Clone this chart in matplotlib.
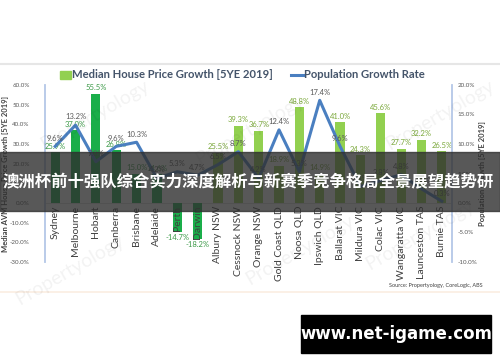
import matplotlib.pyplot as plt
from matplotlib.patches import Rectangle, Patch
from matplotlib.lines import Line2D
import numpy as np

plt.rcParams['font.family'] = ['Lato', 'DejaVu Sans']

cities = ['Sydney', 'Melbourne', 'Hobart', 'Canberra', 'Brisbane', 'Adelaide',
          'Perth', 'Darwin', 'Albury NSW', 'Cessnock NSW', 'Orange NSW',
          'Gold Coast QLD', 'Noosa QLD', 'Ipswich QLD', 'Ballarat VIC',
          'Mildura VIC', 'Colac VIC', 'Wangaratta VIC', 'Launceston TAS', 'Burnie TAS']
house_growth = [25.9, 37.0, 55.5, 26.8, 15.0, 14.6, -14.7, -18.2, 25.5, 39.3,
                36.7, 18.9, 48.8, 14.9, 41.0, 24.3, 45.6, 27.7, 32.2, 26.5]
pop_growth = [9.6, 13.2, 7.0, 9.6, 10.3, 4.2, 5.3, 4.7, 6.5, 8.7,
              4.2, 12.4, 5.3, 17.4, 9.6, 2.8, 3.8, 4.8, 2.4, 0.3]
n_capital = 8

left_ticks = [-30, -20, -10, 0, 10, 20, 30, 40, 50, 60]
right_ticks = [-10, -5, 0, 5, 10, 15, 20]

W, H = 500, 362
fig = plt.figure(figsize=(5, 3.62), dpi=100, facecolor='white')
ax = fig.add_axes([45 / W, 1 - 262 / H, (452 - 45) / W, (262 - 85) / H])
ax2 = ax.twinx()

x = np.arange(len(cities))
bar_cols = ['#1aae4a' if i < n_capital else '#92d050' for i in x]
lab_cols = ['#3c9a48' if i < n_capital else '#7aa83a' for i in x]
ax.bar(x, house_growth, width=0.45, color=bar_cols, zorder=2)
ax.set_xlim(-0.5, len(cities) - 0.5)
ax.set_ylim(-30, 60)
ax.set_yticks(left_ticks)
ax.set_yticklabels([f'{v:.1f}%' for v in left_ticks])
ax.set_xticks([])

ax2.plot(x, pop_growth, color='#4a7fc0', lw=2.2, zorder=3)
ax2.set_ylim(-10, 20)
ax2.set_yticks(right_ticks)
ax2.set_yticklabels([f'{v:.1f}%' for v in right_ticks])

for a in (ax, ax2):
    a.tick_params(axis='y', length=0, labelsize=4.5, labelcolor='#595959')
    for s in ('top', 'bottom'):
        a.spines[s].set_visible(False)
    a.set_facecolor('none')
ax.spines['right'].set_visible(False)
ax2.spines['left'].set_visible(False)
ax.spines['left'].set_color('#b4c7e7')
ax.spines['left'].set_linewidth(1.3)
ax2.spines['right'].set_color('#b4c7e7')
ax2.spines['right'].set_linewidth(1.3)
ax.tick_params(axis='y', pad=11)
ax2.tick_params(axis='y', pad=4)
ax.axhline(0, color='#d9d9d9', lw=0.6, zorder=1)

ax.set_ylabel('Median AVM House Price Growth [5YE 2019]', fontsize=5.5,
              color='#404040', fontweight='bold', labelpad=1)
ax2.set_ylabel('Population Growth [5YE 2019]', fontsize=5.5, color='#404040',
               fontweight='bold', rotation=90, labelpad=1)

# category labels next to the zero line
for i, name in enumerate(cities):
    ax.text(i, -1.5, name, rotation=90, ha='center', va='top', fontsize=7.5,
            color='#3f3f3f', zorder=4)

# data labels
for i, v in enumerate(house_growth):
    off = 1.2 if v >= 0 else -1.2
    ax.text(i, v + off, f'{v:.1f}%', ha='center', va='bottom' if v >= 0 else 'top',
            fontsize=5.5, color=lab_cols[i], zorder=4)
for i, v in enumerate(pop_growth):
    ax2.text(i, v + 0.8, f'{v:.1f}%', ha='center', va='bottom', fontsize=5.5,
             color='#595959', zorder=4)

# legend
handles = [Patch(color='#92d050'), Line2D([], [], color='#4a7fc0', lw=2.2)]
fig.legend(handles, ['Median House Price Growth [5YE 2019]', 'Population Growth Rate'],
           loc='center left', bbox_to_anchor=(50 / W, 1 - 75 / H), ncol=2,
           frameon=False, handlelength=1.0, handletextpad=0.1, columnspacing=1.6,
           prop={'size': 8.1, 'weight': 'bold'}, labelcolor='#44546a')

# faint watermarks
for wx, wy in [(95, 115), (250, 130), (440, 115), (70, 270), (300, 250), (420, 235)]:
    fig.text(wx / W, 1 - wy / H, 'Propertyology', fontsize=14, color='#000000',
             alpha=0.05, rotation=30, ha='center', va='center')

fig.text(483 / W, 1 - 286 / H, 'Source: Propertyology, CoreLogic, ABS', fontsize=4,
         color='#404040', ha='right', va='center')

# frame lines
fig.add_artist(Line2D([0, 1], [1 - 64 / H, 1 - 64 / H], color='#e6e6e6', lw=1.5))
fig.add_artist(Line2D([0, 1], [1 - 292 / H, 1 - 292 / H], color='#fbeee2', lw=1.2))

# banner overlay
fig.add_artist(Rectangle((0, 1 - 211 / H), 1, 59 / H, color='#2e2e2e', alpha=0.8,
                         transform=fig.transFigure, zorder=10))
fig.text(0.496, 1 - 182 / H, '澳洲杯前十强队综合实力深度解析与新赛季竞争格局全景展望趋势研',
         fontsize=11.8, color='white', fontweight='bold', ha='center', va='center',
         family=['Noto Sans CJK SC', 'DejaVu Sans'], zorder=11)

# site box
fig.add_artist(Rectangle((301 / W, 1 - 353 / H), 190 / W, 38 / H, color='black',
                         transform=fig.transFigure, zorder=10))
fig.text(396 / W, 1 - 334 / H, 'www.net-igame.com', fontsize=12, color='white',
         fontweight='bold', ha='center', va='center', family='DejaVu Sans', zorder=11)

fig.savefig('out.png', dpi=100, facecolor='white')
